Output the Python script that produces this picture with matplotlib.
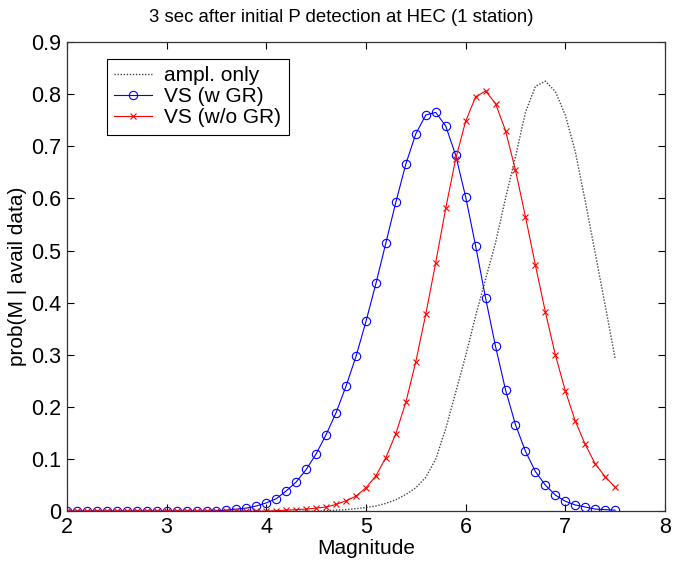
# Probability of magnitude, 3 s after P detection

import matplotlib.pyplot as plt
import numpy as np

plt.rcParams['font.family'] = ['Liberation Sans', 'DejaVu Sans']

# magnitude grid, 2.0 .. 7.5 in 0.1 steps
magnitude = np.round(np.arange(2.0, 7.51, 0.1), 1)

ampl_only = [0.0] * 25 + [
    0.0, 0.001, 0.002, 0.003, 0.005,                 # 4.5 - 4.9
    0.007, 0.010, 0.015, 0.022, 0.032, 0.045,        # 5.0 - 5.5
    0.065, 0.100, 0.158, 0.228, 0.298, 0.375,        # 5.6 - 6.1
    0.445, 0.515, 0.600, 0.680, 0.765, 0.815,        # 6.2 - 6.7
    0.825, 0.805, 0.760, 0.690, 0.595, 0.495,        # 6.8 - 7.3
    0.395, 0.293]                                    # 7.4 - 7.5

vs_gr = [0.0] * 14 + [
    0.0, 0.001, 0.002, 0.004, 0.006, 0.010,          # 3.4 - 3.9
    0.016, 0.024, 0.039, 0.056, 0.080, 0.110,        # 4.0 - 4.5
    0.147, 0.189, 0.240, 0.297, 0.364, 0.437,        # 4.6 - 5.1
    0.515, 0.593, 0.666, 0.724, 0.760, 0.765,        # 5.2 - 5.7
    0.739, 0.683, 0.603, 0.509, 0.409, 0.316,        # 5.8 - 6.3
    0.233, 0.166, 0.115, 0.076, 0.050, 0.031,        # 6.4 - 6.9
    0.019, 0.012, 0.008, 0.004, 0.003, 0.002]        # 7.0 - 7.5

vs_nogr = [0.0] * 20 + [
    0.0, 0.001, 0.002, 0.003, 0.004, 0.006,          # 4.0 - 4.5
    0.008, 0.013, 0.020, 0.029, 0.045, 0.068,        # 4.6 - 5.1
    0.103, 0.149, 0.209, 0.287, 0.378, 0.477,        # 5.2 - 5.7
    0.581, 0.676, 0.748, 0.795, 0.806, 0.782,        # 5.8 - 6.3
    0.730, 0.654, 0.565, 0.472, 0.382, 0.300,        # 6.4 - 6.9
    0.231, 0.173, 0.128, 0.091, 0.066, 0.046]        # 7.0 - 7.5

fig = plt.figure(figsize=(6.74, 5.68), dpi=100)
ax = fig.add_axes([0.0994, 0.100, 0.8872, 0.826])

ax.plot(magnitude, ampl_only, color='#444444', lw=1.0, ls=(0, (1, 1.2)),
        label='ampl. only')
ax.plot(magnitude, vs_gr, '-o', color='blue', lw=0.8, ms=6, mfc='none',
        mew=0.8, label='VS (w GR)')
ax.plot(magnitude, vs_nogr, '-x', color='red', lw=0.8, ms=4.5, mew=0.8,
        label='VS (w/o GR)')

ax.set_xlim(2, 8)
ax.set_ylim(0, 0.9)
ax.set_xticks(range(2, 9))
ax.set_yticks(np.arange(0, 0.91, 0.1))
ax.set_yticklabels(['0'] + ['%.1f' % v for v in np.arange(0.1, 0.91, 0.1)])
ax.tick_params(direction='in', top=True, right=True, labelsize=15.5,
               length=5, width=0.8, pad=4)
for s in ax.spines.values():
    s.set_linewidth(0.9)
    s.set_color('#333333')

ax.set_xlabel('Magnitude', fontsize=15, labelpad=1)
ax.set_ylabel('prob(M | avail data)', fontsize=15, labelpad=3)
# title sits centred on the figure rather than the axes
fig.text(0.506, 0.970, '3 sec after initial P detection at HEC (1 station)',
         fontsize=13.4, ha='center', va='center')

leg = ax.legend(loc='upper left', bbox_to_anchor=(0.067, 0.964),
                fontsize=15, fancybox=False, edgecolor='black',
                framealpha=1, handlelength=1.8, handletextpad=0.6,
                borderpad=0.35, labelspacing=0.1, borderaxespad=0)
leg.get_frame().set_linewidth(0.8)

fig.savefig('out.png', dpi=100)
